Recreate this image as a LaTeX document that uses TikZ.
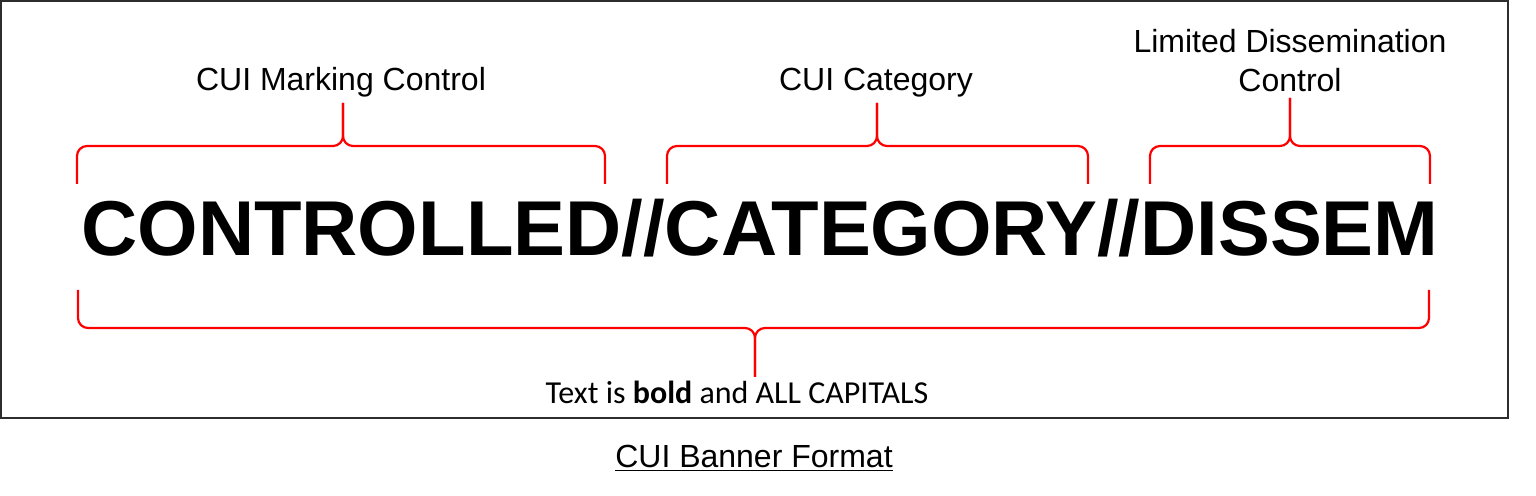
\documentclass[tikz,border=0pt]{standalone}
\usepackage{fontspec}
\setmainfont{Liberation Sans}
\newfontfamily\calibrifont{Carlito}
\usepackage{tikz}
\usetikzlibrary{positioning}
\definecolor{bracered}{RGB}{255, 0, 0}
\definecolor{framegray}{RGB}{45, 45, 45}

\begin{document}
\begin{tikzpicture}[
    x=0.5pt, y=-0.5pt,
    partlabel/.style={font=\fontsize{16}{19.5}\selectfont, anchor=base, inner sep=0pt, align=center},
    bannertext/.style={font=\fontsize{38.9}{42}\selectfont\bfseries, anchor=base, inner sep=0pt},
    brace/.style={draw=bracered, line width=1.1pt, rounded corners=5pt}
]
    \useasboundingbox (0,0) rectangle (1536,496);
    \draw[framegray, line width=1pt] (1,1) rectangle (1508,418);

    % Part labels
    \node[partlabel] (marking) at (341,91) {CUI Marking Control};
    \node[partlabel] (category) at (876,91) {CUI Category};
    \node[partlabel] (dissemtop) at (1290,53) {Limited Dissemination};
    \node[partlabel] (dissembot) at (1290,92) {Control};

    % Banner line
    \node[bannertext] (banner) at (760,256) {CONTROLLED//CATEGORY//DISSEM};

    % Braces above the banner
    \draw[brace] (77,184) -- (77,146) -- (343,146) -- (343,103);
    \draw[brace] (605,184) -- (605,146) -- (343,146) -- (343,103);

    \draw[brace] (667,184) -- (667,146) -- (877,146) -- (877,103);
    \draw[brace] (1088,184) -- (1088,146) -- (877,146) -- (877,103);

    \draw[brace] (1150,184) -- (1150,146) -- (1290,146) -- (1290,98);
    \draw[brace] (1430,184) -- (1430,146) -- (1290,146) -- (1290,98);

    % Brace below the banner
    \draw[brace] (78,290) -- (78,328) -- (755,328) -- (755,377);
    \draw[brace] (1429,290) -- (1429,328) -- (755,328) -- (755,377);
    \node[partlabel, font=\calibrifont\fontsize{16}{19.5}\selectfont] (rule) at (737,403) {Text is \textbf{bold} and ALL CAPITALS};

    % Caption
    \node[partlabel] (caption) at (754,467) {\underline{CUI Banner Format}};
\end{tikzpicture}
\end{document}
